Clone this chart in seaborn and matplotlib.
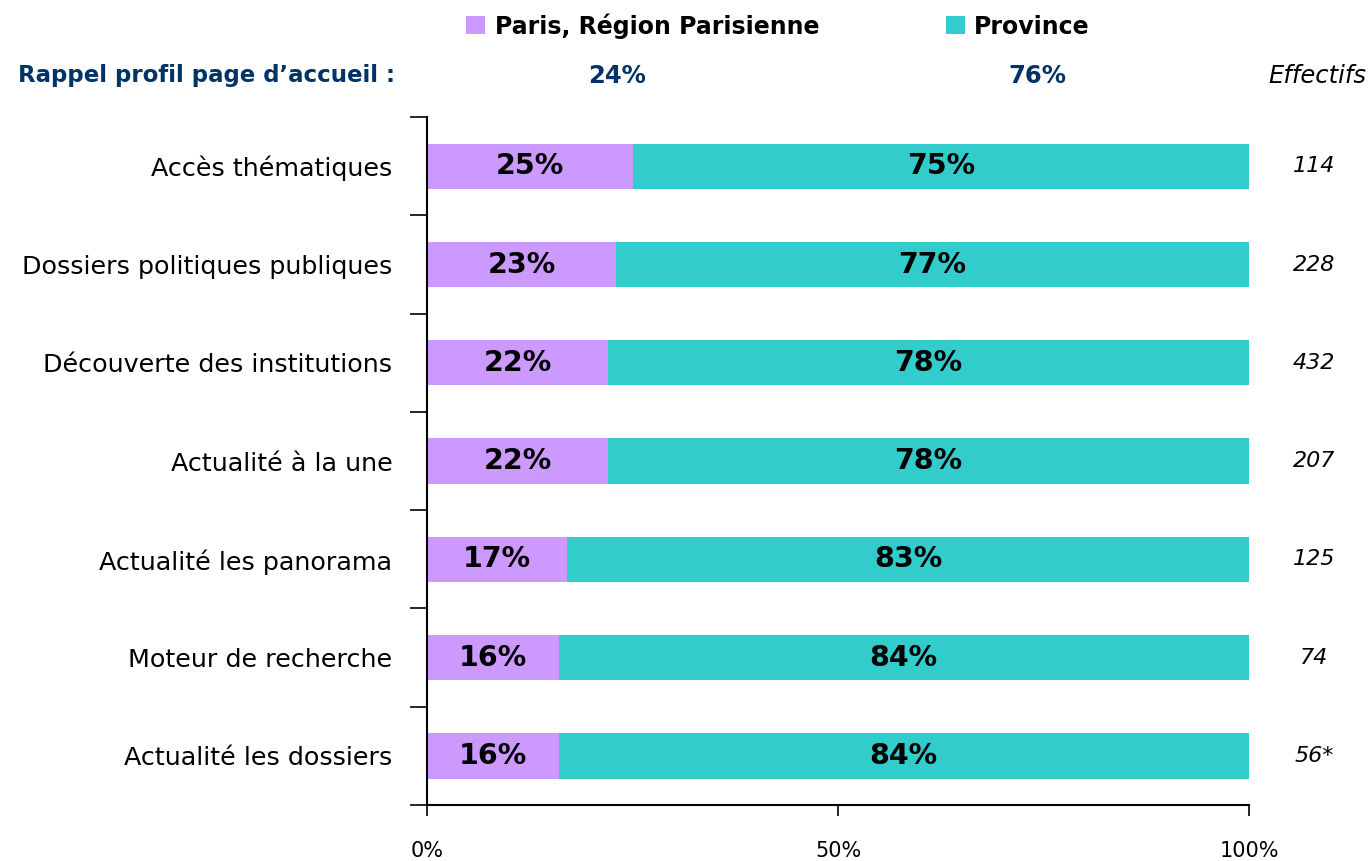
import matplotlib
matplotlib.use("Agg")
import matplotlib.pyplot as plt
import seaborn as sns
import pandas as pd
from matplotlib.patches import Patch

# Data
categories = [
    "Accès thématiques",
    "Dossiers politiques publiques",
    "Découverte des institutions",
    "Actualité à la une",
    "Actualité les panorama",
    "Moteur de recherche",
    "Actualité les dossiers",
]
paris = [25, 23, 22, 22, 17, 16, 16]
province = [75, 77, 78, 78, 83, 84, 84]
effectifs = ["114", "228", "432", "207", "125", "74", "56*"]
series_names = ["Paris, Région Parisienne", "Province"]
rappel = [24, 76]
x_ticks = [0, 50, 100]
x_ticklabels = ["0%", "50%", "100%"]

PURPLE = "#CC99FF"
TEAL = "#33CCCC"
NAVY = "#003366"

sns.set_theme(style="white")
plt.rcParams["font.family"] = ["DejaVu Sans"]
plt.rcParams["text.color"] = "black"

df = pd.DataFrame({
    "categorie": categories,
    "paris": paris,
    "province": province,
})
df["total"] = df["paris"] + df["province"]

fig = plt.figure(figsize=(13.7, 8.61), dpi=100)
ax = fig.add_axes([0.3117, 0.065, 0.6, 0.799])

# Stacked bars: full width in teal, Paris share drawn over it
sns.barplot(data=df, y="categorie", x="total", color=TEAL, orient="h",
            width=0.46, ax=ax, saturation=1, linewidth=0)
sns.barplot(data=df, y="categorie", x="paris", color=PURPLE, orient="h",
            width=0.46, ax=ax, saturation=1, linewidth=0)

ax.set_xlim(0, 100)
ax.set_ylim(len(categories) - 0.5, -0.5)
ax.set_xlabel("")
ax.set_ylabel("")

# Value labels inside each segment
for i, (p, v) in enumerate(zip(paris, province)):
    ax.text(p / 2, i, f"{p}%", ha="center", va="center",
            fontsize=20.5, fontweight="bold", color="black")
    ax.text(p + v / 2, i, f"{v}%", ha="center", va="center",
            fontsize=20.5, fontweight="bold", color="black")

# Spines and ticks
for side in ["top", "right"]:
    ax.spines[side].set_visible(False)
for side in ["left", "bottom"]:
    ax.spines[side].set_color("black")
    ax.spines[side].set_linewidth(1.5)

ax.set_xticks(x_ticks)
ax.set_xticklabels(x_ticklabels, fontsize=15)
ax.tick_params(axis="x", direction="out", length=8, width=1.2, pad=18,
               colors="black", bottom=True)
ax.set_yticks(range(len(categories)))
ax.set_yticklabels(categories, fontsize=18.3)
ax.tick_params(axis="y", length=0, pad=25, colors="black")
# Separator ticks between categories on the y axis
ax.set_yticks([k - 0.5 for k in range(len(categories) + 1)], minor=True)
ax.tick_params(axis="y", which="minor", direction="out", length=12,
               width=1.2, left=True, colors="black")

# Effectifs column
for i, n in enumerate(effectifs):
    ax.text(1.079, i, n, transform=ax.get_yaxis_transform(),
            ha="center", va="center", fontsize=16, style="italic",
            color="black")
fig.text(0.997, 0.912, "Effectifs", ha="right", va="center",
         fontsize=17.5, style="italic", color="black")

# Reminder line
fig.text(0.013, 0.912, "Rappel profil page d\u2019accueil :", ha="left",
         va="center", fontsize=16.5, fontweight="bold", color=NAVY)
fig.text(0.4504, 0.912, f"{rappel[0]}%", ha="center", va="center",
         fontsize=17.5, fontweight="bold", color=NAVY)
fig.text(0.757, 0.912, f"{rappel[1]}%", ha="center", va="center",
         fontsize=17.5, fontweight="bold", color=NAVY)

# Legend
handles = [Patch(facecolor=PURPLE, edgecolor="none"),
           Patch(facecolor=TEAL, edgecolor="none")]
leg = fig.legend(handles, series_names, loc="center", ncol=2,
                 bbox_to_anchor=(0.568, 0.97), frameon=False,
                 handlelength=0.8, handleheight=0.8, handletextpad=0.4,
                 columnspacing=5.37, prop={"size": 17, "weight": "bold"})
for t in leg.get_texts():
    t.set_color("black")

fig.savefig("out.png", dpi=100)
